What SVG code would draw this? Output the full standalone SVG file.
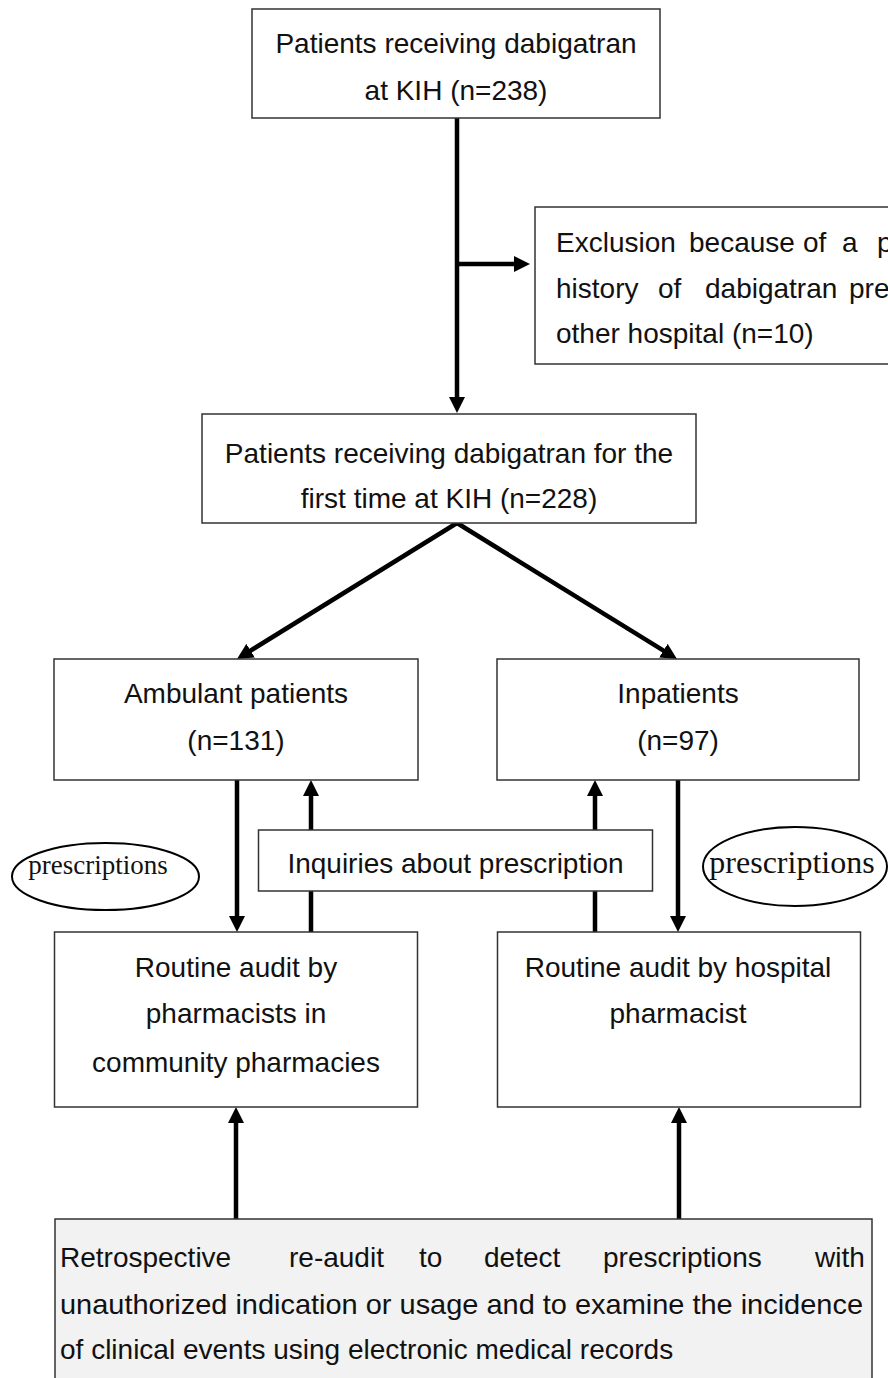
<svg xmlns="http://www.w3.org/2000/svg" width="888" height="1378" viewBox="0 0 888 1378">
<style>
.box{fill:#fff;stroke:#333;stroke-width:1.5}
.gbox{fill:#f2f2f2;stroke:#333;stroke-width:1.5}
.t{font-family:"Liberation Sans",Arial,sans-serif;font-size:28px;fill:#111}
.c{text-anchor:middle}
.s{font-family:"Liberation Serif","Times New Roman",serif;fill:#111;text-anchor:middle}
.ln{stroke:#000;stroke-width:4.5;fill:none;marker-end:url(#ah)}
.ell{fill:#fff;stroke:#000;stroke-width:2}
</style>
<defs>
<marker id="ah" markerUnits="userSpaceOnUse" markerWidth="16" markerHeight="16" refX="4" refY="8" orient="auto">
<path d="M0,0 L16,8 L0,16 z" fill="#000"/>
</marker>
</defs>
<rect width="888" height="1378" fill="#fff"/>
<g id="connectors">
<line class="ln" x1="457" y1="118" x2="457" y2="401"/>
<line class="ln" x1="457" y1="264" x2="518" y2="264"/>
<line class="ln" x1="457" y1="523" x2="247.2" y2="652.7"/>
<line class="ln" x1="457" y1="523" x2="666.8" y2="652.7"/>
<line class="ln" x1="237" y1="780" x2="237" y2="920"/>
<line class="ln" x1="311" y1="932" x2="311" y2="792"/>
<line class="ln" x1="595" y1="932" x2="595" y2="792"/>
<line class="ln" x1="678" y1="780" x2="678" y2="920"/>
<line class="ln" x1="236" y1="1219" x2="236" y2="1119"/>
<line class="ln" x1="679" y1="1219" x2="679" y2="1119"/>
</g>
<g id="n-top">
<rect class="box" x="252" y="9" width="408" height="109"/>
<text class="t c" x="456" y="53">Patients receiving dabigatran</text>
<text class="t c" x="456" y="100">at KIH (n=238)</text>
</g>
<g id="n-exclusion">
<rect class="box" x="535" y="207" width="370" height="157"/>
<text class="t" y="252"><tspan x="556">Exclusion</tspan><tspan x="689">because</tspan><tspan x="803">of</tspan><tspan x="842">a</tspan><tspan x="877">p</tspan></text>
<text class="t" y="298"><tspan x="556">history</tspan><tspan x="658">of</tspan><tspan x="705">dabigatran</tspan><tspan x="849">pre</tspan></text>
<text class="t" x="556" y="343">other hospital (n=10)</text>
</g>
<g id="n-first">
<rect class="box" x="202" y="414" width="494" height="109"/>
<text class="t c" x="449" y="463">Patients receiving dabigatran for the</text>
<text class="t c" x="449" y="508">first time at KIH (n=228)</text>
</g>
<g id="n-ambulant">
<rect class="box" x="54" y="659" width="364" height="121"/>
<text class="t c" x="236" y="703">Ambulant patients</text>
<text class="t c" x="236" y="750">(n=131)</text>
</g>
<g id="n-inpatients">
<rect class="box" x="497" y="659" width="362" height="121"/>
<text class="t c" x="678" y="703">Inpatients</text>
<text class="t c" x="678" y="750">(n=97)</text>
</g>
<g id="n-presc-left">
<ellipse class="ell" cx="105.5" cy="876.5" rx="93.5" ry="33.5"/>
<text class="s" x="98" y="874" font-size="27">prescriptions</text>
</g>
<g id="n-presc-right">
<ellipse class="ell" cx="795" cy="866.5" rx="92" ry="39.5"/>
<text class="s" x="792" y="873" font-size="32">prescriptions</text>
</g>
<g id="n-inquiries">
<rect class="box" x="258.5" y="830" width="394" height="61"/>
<text class="t c" x="455.5" y="873">Inquiries about prescription</text>
</g>
<g id="n-audit-community">
<rect class="box" x="54.5" y="932" width="363" height="175"/>
<text class="t c" x="236" y="977">Routine audit by</text>
<text class="t c" x="236" y="1023">pharmacists in</text>
<text class="t c" x="236" y="1072">community pharmacies</text>
</g>
<g id="n-audit-hospital">
<rect class="box" x="497.5" y="932" width="363" height="175"/>
<text class="t c" x="678" y="977">Routine audit by hospital</text>
<text class="t c" x="678" y="1023">pharmacist</text>
</g>
<g id="n-reaudit">
<rect class="gbox" x="55" y="1219" width="817" height="170"/>
<text class="t" y="1267"><tspan x="60">Retrospective</tspan><tspan x="289">re-audit</tspan><tspan x="419">to</tspan><tspan x="484">detect</tspan><tspan x="603">prescriptions</tspan><tspan x="815">with</tspan></text>
<text class="t" x="60" y="1314" textLength="803" lengthAdjust="spacingAndGlyphs">unauthorized indication or usage and to examine the incidence</text>
<text class="t" x="60" y="1359">of clinical events using electronic medical records</text>
</g>
</svg>
